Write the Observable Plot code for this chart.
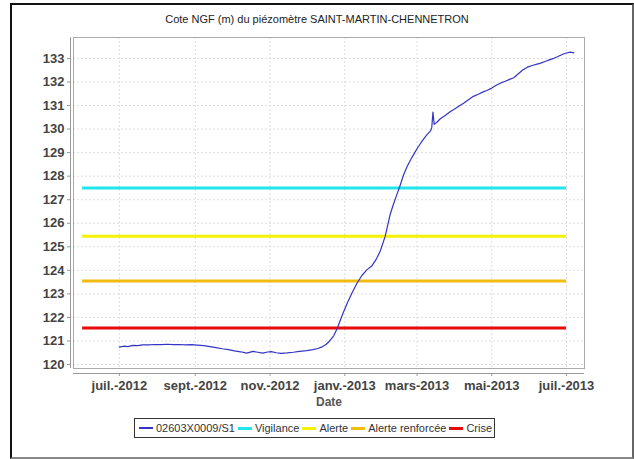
<!DOCTYPE html>
<html>
<head>
<meta charset="utf-8">
<script src="https://cdn.jsdelivr.net/npm/d3@7"></script>
<script src="https://cdn.jsdelivr.net/npm/@observablehq/plot@0.6"></script>
<style>
  html, body { margin: 0; padding: 0; background: #fff; }
  #wrap { position: relative; width: 634px; height: 459px; font-family: "Liberation Sans", Arial, sans-serif; }
  #border { position: absolute; left: 10px; top: 3px; width: 620px; height: 452px;
            border-left: 2px solid #111; border-top: 2px solid #111; border-right: 2px solid #666; border-bottom: 2px solid #888; }
  #title { position: absolute; left: 0; width: 634px; top: 13px; text-align: center; font-size: 11px; color: #222; }
  #chart { position: absolute; left: 0; top: 0; }
  #legend { position: absolute; left: 134px; top: 418px; height: 18px; border: 1px solid #333; background: #fff;
            display: flex; align-items: center; font-size: 11px; color: #333; padding: 0 2px 0 1px; white-space: nowrap; }
  .sw { display: inline-block; width: 14px; margin: 0 3px 0 3px; vertical-align: middle; }
  .it { display: inline-flex; align-items: center; }
</style>
</head>
<body>
<div id="wrap">
  <div id="chart"></div>
  <div id="border"></div>
  <div id="title">Cote NGF (m) du piézomètre SAINT-MARTIN-CHENNETRON</div>
  <div id="legend"></div>
</div>
<script>
// ---- data ----
const seriesName = "02603X0009/S1";
const dates = [
  "2012-07-01","2012-07-05","2012-07-08","2012-07-12","2012-07-16","2012-07-20","2012-07-25","2012-07-30",
  "2012-08-04","2012-08-09","2012-08-14","2012-08-19","2012-08-24","2012-08-29",
  "2012-09-03","2012-09-08","2012-09-13","2012-09-18","2012-09-23","2012-09-28",
  "2012-10-03","2012-10-08","2012-10-13","2012-10-18","2012-10-22","2012-10-26","2012-10-30",
  "2012-11-02","2012-11-06","2012-11-10","2012-11-15","2012-11-20","2012-11-25",
  "2012-12-01","2012-12-06","2012-12-10","2012-12-14","2012-12-17","2012-12-20","2012-12-23","2012-12-26","2012-12-30",
  "2013-01-03","2013-01-07","2013-01-11","2013-01-15","2013-01-19","2013-01-23","2013-01-27","2013-01-30",
  "2013-02-03","2013-02-07","2013-02-10","2013-02-12","2013-02-15","2013-02-18","2013-02-21","2013-02-24","2013-02-27",
  "2013-03-02","2013-03-06","2013-03-09","2013-03-12","2013-03-13","2013-03-14","2013-03-15","2013-03-17","2013-03-20","2013-03-24","2013-03-28",
  "2013-04-01","2013-04-05","2013-04-08","2013-04-12","2013-04-16","2013-04-20","2013-04-24","2013-04-27",
  "2013-05-01","2013-05-05","2013-05-08","2013-05-12","2013-05-16","2013-05-19","2013-05-22","2013-05-26","2013-05-30",
  "2013-06-03","2013-06-07","2013-06-10","2013-06-14","2013-06-17","2013-06-20","2013-06-24","2013-06-28",
  "2013-07-01","2013-07-04","2013-07-07"
];
const levels = [
  120.74,120.78,120.76,120.81,120.80,120.83,120.83,120.85,
  120.84,120.86,120.84,120.85,120.83,120.84,
  120.82,120.80,120.76,120.72,120.67,120.63,
  120.58,120.54,120.48,120.56,120.52,120.48,120.53,
  120.55,120.50,120.47,120.49,120.52,120.56,
  120.59,120.63,120.68,120.76,120.86,121.02,121.22,121.55,122.10,
  122.60,123.05,123.45,123.78,124.02,124.18,124.50,124.82,
  125.44,126.36,126.85,127.14,127.57,128.05,128.42,128.72,128.99,
  129.25,129.55,129.75,129.92,130.05,130.72,130.20,130.28,130.44,130.58,130.74,
  130.86,131.00,131.10,131.25,131.39,131.48,131.58,131.64,
  131.74,131.87,131.95,132.03,132.12,132.18,132.32,132.50,132.63,
  132.70,132.76,132.80,132.88,132.94,132.99,133.08,133.18,
  133.23,133.27,133.24
];
const thresholdNames = ["Vigilance","Alerte","Alerte renforcée","Crise"];
const thresholdValues = [127.5, 125.45, 123.55, 121.55];
const thresholdColors = ["#22e6ee","#f4f400","#f0bc10","#e80a0a"];
const thresholdStart = "2012-06-01";
const thresholdEnd = "2013-07-01";
const xTickDates = ["2012-07-01","2012-09-01","2012-11-01","2013-01-01","2013-03-01","2013-05-01","2013-07-01"];
const xTickLabels = ["juil.-2012","sept.-2012","nov.-2012","janv.-2013","mars-2013","mai-2013","juil.-2013"];
const yTicks = [120,121,122,123,124,125,126,127,128,129,130,131,132,133];
const seriesColor = "#3434c8";

// ---- build ----
const series = dates.map((d, i) => ({date: new Date(d), value: levels[i]}));
const thresholds = thresholdNames.map((n, i) => ({name: n, value: thresholdValues[i], color: thresholdColors[i],
  x1: new Date(thresholdStart), x2: new Date(thresholdEnd)}));
const xt = xTickDates.map(d => new Date(d));
const labelOf = new Map(xt.map((d, i) => [+d, xTickLabels[i]]));
const xDomain = [new Date("2012-05-24T14:00:00Z"), new Date("2013-07-15T17:00:00Z")];
const yDomain = [119.83, 133.89];

const chart = Plot.plot({
  width: 634,
  height: 459,
  marginLeft: 73,
  marginRight: 50,
  marginTop: 37,
  marginBottom: 91,
  style: {fontFamily: "Liberation Sans, Arial, sans-serif", background: "transparent"},
  x: {type: "utc", domain: xDomain},
  y: {domain: yDomain},
  marks: [
    Plot.gridX(xt, {stroke: "#dedede", strokeOpacity: 1, strokeDasharray: "2,2"}),
    Plot.gridY(yTicks, {stroke: "#dedede", strokeOpacity: 1, strokeDasharray: "2,2"}),
    Plot.frame({stroke: "#aaa"}),
    Plot.ruleY([yDomain[0]], {dy: 5, stroke: "#999"}),
    Plot.ruleX([xDomain[0]], {dx: -3, stroke: "#999"}),
    Plot.axisX(xt, {tickFormat: d => labelOf.get(+d), tickSize: 3, tickPadding: 4, dy: 5, stroke: "#999",
      fontSize: 13, fontWeight: "bold", fill: "#444", label: null}),
    Plot.axisY(yTicks, {tickSize: 3, tickPadding: 3, dx: -3, stroke: "#999",
      fontSize: 13, fontWeight: "bold", fill: "#444", label: null}),
    Plot.text(["Date"], {frameAnchor: "bottom", dy: 37, fontSize: 12, fontWeight: "bold", fill: "#555"}),
    Plot.ruleY(thresholds, {y: "value", x1: "x1", x2: "x2", stroke: "color", strokeWidth: 3}),
    Plot.line(series, {x: "date", y: "value", stroke: seriesColor, strokeWidth: 1.2})
  ]
});
document.getElementById("chart").appendChild(chart);

// legend
const legend = document.getElementById("legend");
const items = [{name: seriesName, color: seriesColor, w: 1.5}].concat(thresholds.map(t => ({name: t.name, color: t.color, w: 3})));
items.forEach(it => {
  const span = document.createElement("span");
  span.className = "it";
  const sw = document.createElement("span");
  sw.className = "sw";
  sw.style.height = it.w + "px";
  sw.style.background = it.color;
  span.appendChild(sw);
  const tx = document.createElement("span");
  tx.textContent = it.name;
  span.appendChild(tx);
  legend.appendChild(span);
});
</script>
</body>
</html>
